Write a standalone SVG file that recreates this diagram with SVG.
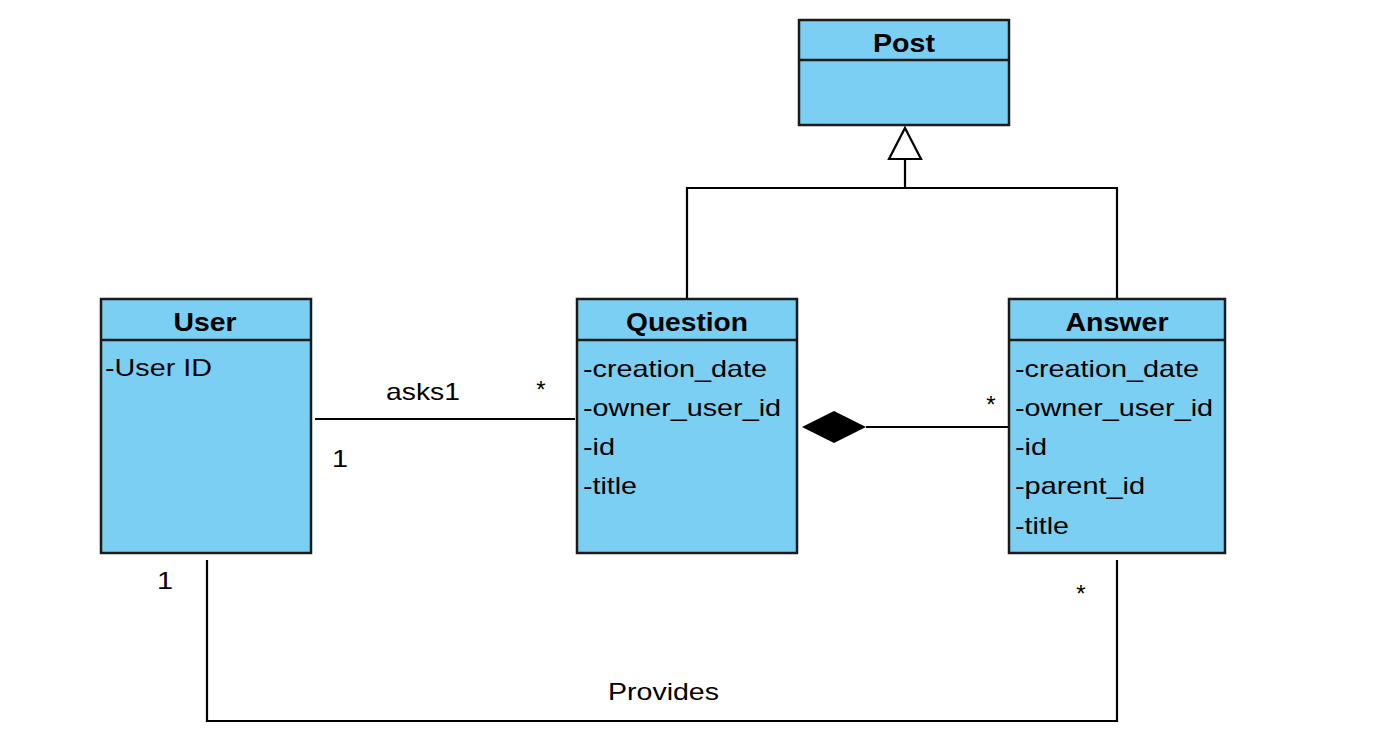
<svg xmlns="http://www.w3.org/2000/svg" width="1373" height="743" viewBox="0 0 1373 743">
<style>
.box{fill:#7ACFF3;stroke:#1a1a1a;stroke-width:2.5}
.div{stroke:#1a1a1a;stroke-width:2.5}
.hd{font-family:"Liberation Sans",Arial,sans-serif;font-weight:bold;font-size:25px;fill:#000;text-anchor:middle}
.at{font-family:"Liberation Sans",Arial,sans-serif;font-size:24px;fill:#000}
.lb{font-family:"Liberation Sans",Arial,sans-serif;font-size:24px;fill:#000}
.ln{fill:none;stroke:#000;stroke-width:2.2}
</style>
<rect width="1373" height="743" fill="#fff"/>
<g id="connectors">
<path class="ln" d="M687,299 V188 H1117 V299"/>
<path class="ln" d="M905,188 V159"/>
<polygon points="905,128 921,159 889,159" fill="#fff" stroke="#000" stroke-width="2.2"/>
<path class="ln" d="M315,419 H575"/>
<text class="lb" x="386" y="400" textLength="74" lengthAdjust="spacingAndGlyphs">asks1</text>
<text class="lb" x="541" y="398" text-anchor="middle">*</text>
<text class="lb" x="340" y="467" text-anchor="middle" textLength="16" lengthAdjust="spacingAndGlyphs">1</text>
<polygon points="802,427 834,411 866,427 834,443" fill="#000"/>
<path class="ln" d="M866,427 H1008"/>
<text class="lb" x="991" y="413" text-anchor="middle">*</text>
<path class="ln" d="M207,560 V721 H1117 V560"/>
<text class="lb" x="165" y="589" text-anchor="middle" textLength="16" lengthAdjust="spacingAndGlyphs">1</text>
<text class="lb" x="1081" y="602" text-anchor="middle">*</text>
<text class="lb" x="608" y="700" textLength="111" lengthAdjust="spacingAndGlyphs">Provides</text>
</g>
<g id="Post">
<rect class="box" x="799" y="20" width="210" height="105"/>
<line class="div" x1="799" y1="60" x2="1009" y2="60"/>
<text class="hd" x="904" y="52" textLength="62" lengthAdjust="spacingAndGlyphs">Post</text>
</g>
<g id="User">
<rect class="box" x="101" y="299" width="210" height="254"/>
<line class="div" x1="101" y1="340" x2="311" y2="340"/>
<text class="hd" x="205" y="331" textLength="63" lengthAdjust="spacingAndGlyphs">User</text>
<text class="at" x="105" y="376" textLength="107" lengthAdjust="spacingAndGlyphs">-User ID</text>
</g>
<g id="Question">
<rect class="box" x="577" y="299" width="220" height="254"/>
<line class="div" x1="577" y1="340" x2="797" y2="340"/>
<text class="hd" x="687" y="331" textLength="122" lengthAdjust="spacingAndGlyphs">Question</text>
<text class="at" x="583" y="377" textLength="184" lengthAdjust="spacingAndGlyphs">-creation_date</text>
<text class="at" x="583" y="416" textLength="198" lengthAdjust="spacingAndGlyphs">-owner_user_id</text>
<text class="at" x="583" y="455" textLength="32" lengthAdjust="spacingAndGlyphs">-id</text>
<text class="at" x="583" y="494" textLength="54" lengthAdjust="spacingAndGlyphs">-title</text>
</g>
<g id="Answer">
<rect class="box" x="1009" y="299" width="216" height="254"/>
<line class="div" x1="1009" y1="340" x2="1225" y2="340"/>
<text class="hd" x="1117" y="331" textLength="103" lengthAdjust="spacingAndGlyphs">Answer</text>
<text class="at" x="1015" y="377" textLength="184" lengthAdjust="spacingAndGlyphs">-creation_date</text>
<text class="at" x="1015" y="416" textLength="198" lengthAdjust="spacingAndGlyphs">-owner_user_id</text>
<text class="at" x="1015" y="455" textLength="32" lengthAdjust="spacingAndGlyphs">-id</text>
<text class="at" x="1015" y="494" textLength="130" lengthAdjust="spacingAndGlyphs">-parent_id</text>
<text class="at" x="1015" y="534" textLength="54" lengthAdjust="spacingAndGlyphs">-title</text>
</g>
</svg>
